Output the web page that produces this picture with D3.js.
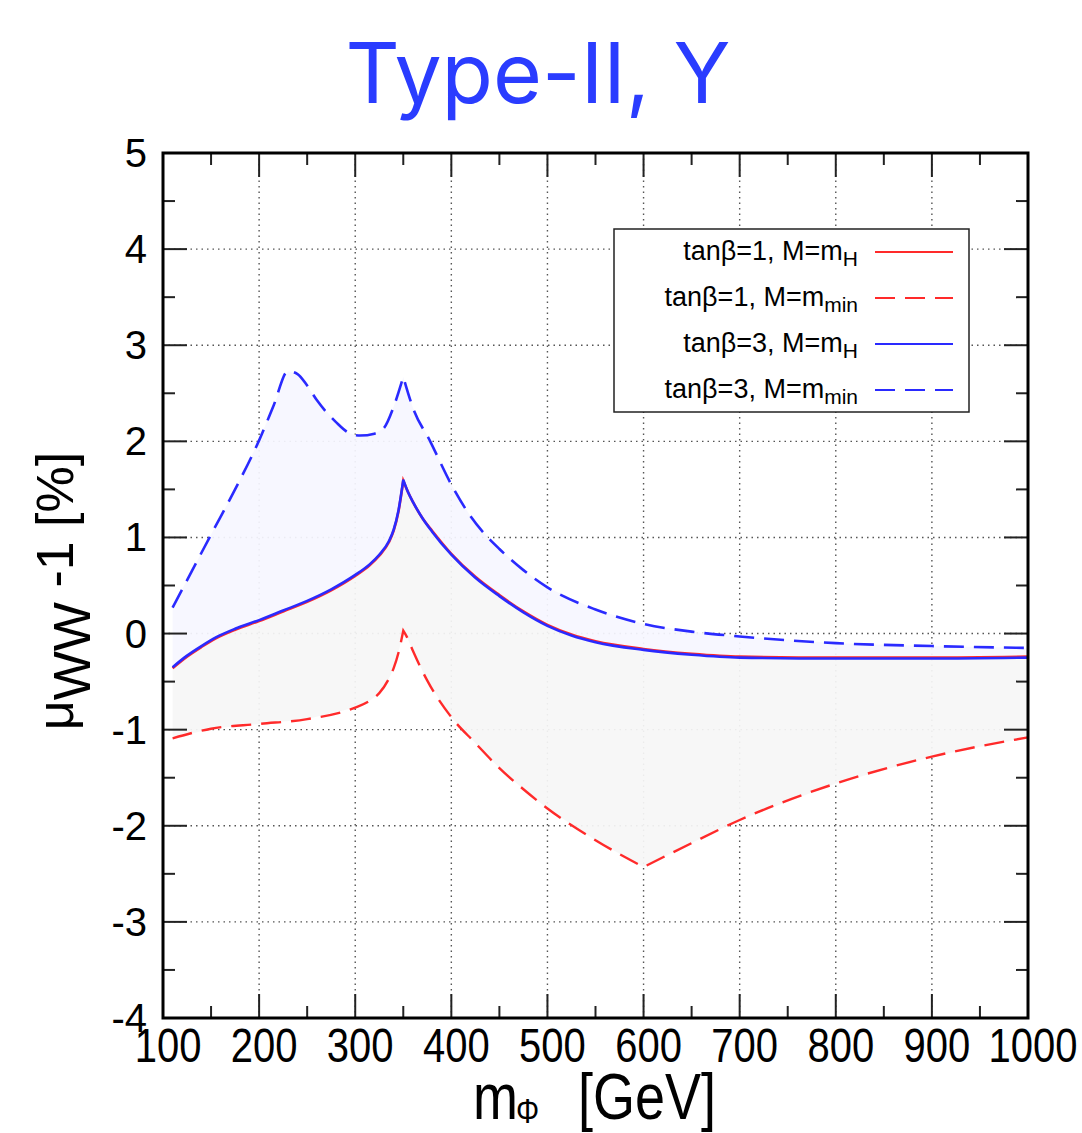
<!DOCTYPE html>
<meta charset="utf-8">
<style>
body { margin: 0; background: #fff; }
.grid line { stroke: #555; stroke-width: 1.4; stroke-dasharray: 1.5,4; }
.tick-mark { stroke: #222; stroke-width: 2; }
.lbl { font-family: "Liberation Sans", Arial, sans-serif; fill: #000; }
</style>
<body>
<script src="https://d3js.org/d3.v7.min.js"></script>
<script>

var width = 1082;
var height = 1133;

// tanb=3, M=mH (solid blue)
var massH = [110, 125, 140, 155, 175, 200, 225, 250, 275, 300, 315, 325, 335, 340, 345, 350,
  355, 360, 370, 380, 400, 425, 450, 475, 500, 525, 550, 600, 650, 700, 800, 900, 1000];
var tb3H = [-0.35, -0.23, -0.13, -0.04, 0.05, 0.14, 0.24, 0.34, 0.46, 0.61, 0.72, 0.82, 0.96, 1.08, 1.28, 1.6,
  1.47, 1.37, 1.2, 1.06, 0.82, 0.58, 0.39, 0.22, 0.08, -0.02, -0.09, -0.17, -0.22, -0.25, -0.26, -0.26, -0.25];
// tanb=1, M=mH (solid red) - almost on top of the blue one
var tb1H = [-0.36, -0.24, -0.14, -0.05, 0.04, 0.13, 0.23, 0.33, 0.45, 0.6, 0.71, 0.81, 0.95, 1.07, 1.27, 1.59,
  1.47, 1.37, 1.2, 1.07, 0.83, 0.59, 0.4, 0.23, 0.09, -0.01, -0.08, -0.16, -0.21, -0.24, -0.25, -0.25, -0.24];

// tanb=3, M=mmin (dashed blue)
var massB = [110, 130, 150, 175, 200, 215, 230, 240, 250, 260, 280, 295, 305, 320, 330, 340, 350,
  360, 378, 400, 420, 438, 450, 475, 500, 550, 600, 650, 700, 800, 900, 1000];
var tb3Min = [0.27, 0.65, 1.03, 1.5, 2.01, 2.37, 2.73, 2.7, 2.58, 2.43, 2.2, 2.08, 2.06, 2.08, 2.14, 2.36, 2.67,
  2.35, 2.0, 1.55, 1.22, 1.0, 0.88, 0.66, 0.48, 0.25, 0.1, 0.02, -0.03, -0.1, -0.13, -0.15];

// tanb=1, M=mmin (dashed red)
var massR = [110, 150, 200, 250, 300, 315, 325, 335, 340, 345, 350, 354, 360, 375, 400, 425, 450, 475, 500, 550, 600,
  650, 700, 800, 900, 1000];
var tb1Min = [-1.09, -0.99, -0.94, -0.89, -0.77, -0.7, -0.62, -0.47, -0.36, -0.2, 0.03, -0.04, -0.18, -0.49, -0.87, -1.14, -1.4, -1.62, -1.82, -2.15, -2.43,
  -2.18, -1.94, -1.56, -1.28, -1.08];

var xTicks = d3.range(100, 1001, 100);
var xMinor = d3.range(150, 1000, 100);
var yTicks = d3.range(-4, 6, 1);
var yMinor = d3.range(-3.5, 5, 1);

var legendItems = [
  {tb: '1', sub: 'H', color: '#ff2a2a', dash: null},
  {tb: '1', sub: 'min', color: '#ff2a2a', dash: '20,10'},
  {tb: '3', sub: 'H', color: '#2a2aff', dash: null},
  {tb: '3', sub: 'min', color: '#2a2aff', dash: '20,10'}
];

var pL = 163, pR = 1028, pT = 153, pB = 1018;

var x = d3.scaleLinear().domain([100, 1000]).range([pL, pR]);
var y = d3.scaleLinear().domain([-4, 5]).range([pB, pT]);

var svg = d3.select('body').append('svg')
  .attr('width', width)
  .attr('height', height);

// title
svg.append('text')
  .attr('x', 538)
  .attr('y', 103)
  .attr('text-anchor', 'middle')
  .attr('font-family', 'Inter, "Noto Sans", sans-serif')
  .attr('font-size', 84)
  .attr('fill', '#2a3cff')
  .text('Type-II, Y');

// grid
var grid = svg.append('g').attr('class', 'grid');
grid.selectAll('.gx').data(xTicks.slice(1, -1)).enter().append('line')
  .attr('x1', d => x(d)).attr('x2', d => x(d))
  .attr('y1', pT).attr('y2', pB);
grid.selectAll('.gy').data(yTicks.slice(1, -1)).enter().append('line')
  .attr('x1', pL).attr('x2', pR)
  .attr('y1', d => y(d)).attr('y2', d => y(d));

var pts = (ms, vs) => ms.map((m, i) => [m, vs[i]]);
var line = d3.line().x(d => x(d[0])).y(d => y(d[1])).curve(d3.curveMonotoneX);
var poly = d3.line().x(d => x(d[0])).y(d => y(d[1]));

// smooth path, but keep sharp corners at the threshold cusps
function cuspPath(data, cusps) {
  var parts = [], cur = [];
  data.forEach(p => {
    cur.push(p);
    if (cusps.indexOf(p[0]) >= 0) { parts.push(cur); cur = [p]; }
  });
  if (cur.length > 1) parts.push(cur);
  return parts.map((s, i) => {
    var d = line(s);
    return i === 0 ? d : 'L' + d.slice(1);
  }).join('');
}

var blueH = pts(massH, tb3H);
var redH = pts(massH, tb1H);
var blueMin = pts(massB, tb3Min);
var redMin = pts(massR, tb1Min);

// bands
svg.append('path')
  .attr('d', poly(blueMin.concat(blueH.slice().reverse())) + 'Z')
  .attr('fill', '#f6f6ff')
  .attr('fill-opacity', 0.93);
svg.append('path')
  .attr('d', poly(redH.concat(redMin.slice().reverse())) + 'Z')
  .attr('fill', '#f6f6f6')
  .attr('fill-opacity', 0.93);

// curves
var curves = [
  {data: redMin, cusps: [350, 600], color: '#ff2a2a', dash: '20,10', w: 2.4},
  {data: blueMin, cusps: [350], color: '#2a2aff', dash: '20,10', w: 2.6},
  {data: redH, cusps: [350], color: '#ff2a2a', dash: null, w: 2.6},
  {data: blueH, cusps: [350], color: '#2a2aff', dash: null, w: 2.6}
];
svg.selectAll('.curve').data(curves).enter().append('path')
  .attr('class', 'curve')
  .attr('d', d => cuspPath(d.data, d.cusps))
  .attr('fill', 'none')
  .attr('stroke', d => d.color)
  .attr('stroke-width', d => d.w)
  .attr('stroke-dasharray', d => d.dash);

// ticks
var ticks = svg.append('g');
function xt(vals, len) {
  vals.forEach(v => {
    ticks.append('line').attr('class', 'tick-mark')
      .attr('x1', x(v)).attr('x2', x(v)).attr('y1', pB).attr('y2', pB - len);
    ticks.append('line').attr('class', 'tick-mark')
      .attr('x1', x(v)).attr('x2', x(v)).attr('y1', pT).attr('y2', pT + len);
  });
}
function yt(vals, len) {
  vals.forEach(v => {
    ticks.append('line').attr('class', 'tick-mark')
      .attr('x1', pL).attr('x2', pL + len).attr('y1', y(v)).attr('y2', y(v));
    ticks.append('line').attr('class', 'tick-mark')
      .attr('x1', pR).attr('x2', pR - len).attr('y1', y(v)).attr('y2', y(v));
  });
}
xt(xTicks, 24); xt(xMinor, 12);
yt(yTicks, 24); yt(yMinor, 12);

// legend
var lg = svg.append('g');
lg.append('rect')
  .attr('x', 614).attr('y', 229).attr('width', 355).attr('height', 183)
  .attr('fill', '#fff').attr('stroke', '#222').attr('stroke-width', 1.5);
legendItems.forEach((d, i) => {
  var ly = 252 + i * 46;
  var t = lg.append('text')
    .attr('class', 'lbl')
    .attr('x', 858).attr('y', ly + 8)
    .attr('text-anchor', 'end')
    .attr('font-size', 27);
  t.append('tspan').text('tanβ=' + d.tb + ', M=m');
  t.append('tspan').attr('dy', 6).attr('font-size', 21).text(d.sub);
  lg.append('line')
    .attr('x1', 875).attr('x2', 953).attr('y1', ly).attr('y2', ly)
    .attr('stroke', d.color).attr('stroke-width', 2.2)
    .attr('stroke-dasharray', d.dash);
});

// frame
svg.append('rect')
  .attr('x', pL).attr('y', pT)
  .attr('width', pR - pL).attr('height', pB - pT)
  .attr('fill', 'none').attr('stroke', '#000').attr('stroke-width', 3);

// tick labels
svg.selectAll('.xl').data(xTicks).enter().append('g')
  .attr('transform', d => 'translate(' + (x(d) + 5) + ',1062) scale(1,1.2)')
  .append('text')
  .attr('class', 'lbl')
  .attr('text-anchor', 'middle')
  .attr('font-size', 40)
  .text(d => d);

svg.selectAll('.yl').data(yTicks).enter().append('text')
  .attr('class', 'lbl')
  .attr('x', 147)
  .attr('y', d => y(d) + 14)
  .attr('text-anchor', 'end')
  .attr('font-size', 40)
  .text(d => d);

// axis titles
var xTitle = svg.append('g')
  .attr('transform', 'translate(0,1119) scale(1,1.2)')
  .append('text')
  .attr('class', 'lbl')
  .attr('font-size', 54);
xTitle.append('tspan').attr('x', 473).text('m');
xTitle.append('tspan').attr('x', 516).attr('dy', 3).attr('font-size', 29).text('Φ');
xTitle.append('tspan').attr('x', 578).attr('dy', -3).text('[GeV]');

var yTitle = svg.append('text')
  .attr('class', 'lbl')
  .attr('transform', 'translate(73,591) rotate(-90)')
  .attr('text-anchor', 'middle')
  .attr('font-size', 52);
yTitle.append('tspan').text('μ');
yTitle.append('tspan').attr('dy', 17).text('WW');
yTitle.append('tspan').attr('dy', -17).text(' -1 [%]');

</script>
</body>
</html>
